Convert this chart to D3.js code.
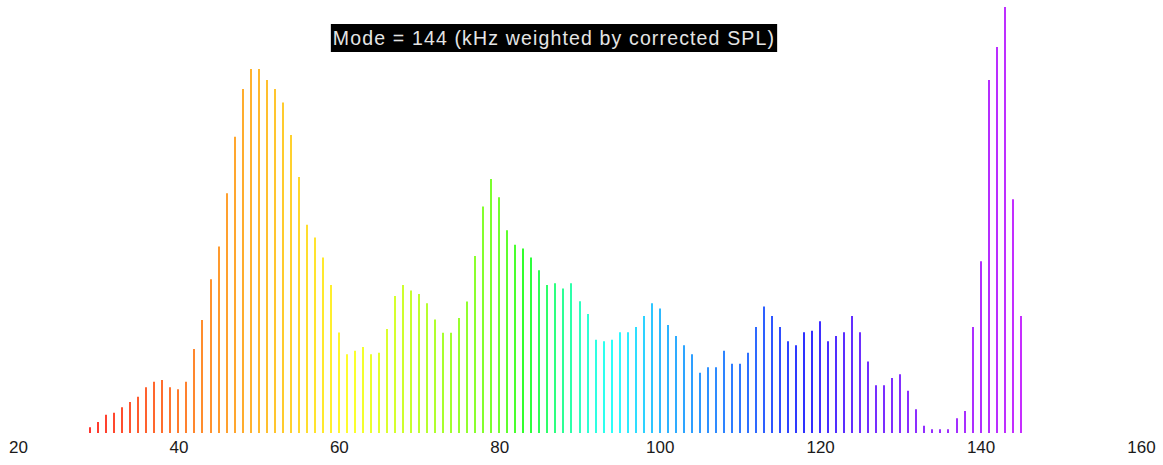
<!DOCTYPE html>
<html>
<head>
<meta charset="utf-8">
<script src="https://cdn.jsdelivr.net/npm/d3@7"></script>
<style>
  body { margin: 0; background: #fff; }
  text { font-family: "Liberation Sans", Arial, sans-serif; }
</style>
</head>
<body>
<div id="chart"></div>
<script>
(function(){

	// frequency bins (kHz) and their weighted corrected SPL
	var kHz = d3.range(29, 146);
	var weights = [
		5.7, 11, 18.3, 20.3, 25.7, 31, 36.3, 45.7, 51.3, 53, 45.7, 43.7, 51.3, 84, 113, 153.7,
		186.3, 239.7, 296, 343.7, 363.7, 363.7, 352.7, 343.7, 330.3, 297.7, 255.7, 208, 195.3, 175.3, 148,
		100.5, 78.7, 82.3, 86, 78.7, 80.3, 104, 137, 148, 142.3, 139, 129.7, 113.3, 100.3, 100.3, 115,
		131.3, 177, 226.3, 253.7, 235.7, 202.7, 188, 184.3, 175.3, 162.7, 148, 149.7, 144.3, 149.7, 131.7,
		119, 93.3, 91.7, 93.3, 100.7, 100.7, 106, 117, 129.7, 124.3, 108, 97, 87.7, 78.7, 60.3,
		65.7, 65.7, 82.3, 69.3, 69.3, 80.3, 106, 126.3, 117, 106, 91.7, 87.7, 100.7, 102.3, 111.7,
		91.7, 97, 100.7, 117, 100.7, 71.5, 47.7, 47.7, 55, 58.7, 42.3, 23.7, 7.3, 3.7, 3.7,
		3.7, 14.7, 22, 106, 171.7, 352.7, 385.7, 425.7, 233.7, 117
	];
	var tickValues = [20, 40, 60, 80, 100, 120, 140, 160];
	var title = "Mode = 144 (kHz weighted by corrected SPL)";

	var width = 1163;
	var height = 465;
	var data = kHz.map(function(k, i){ return {k: k, v: weights[i]}; });

	var svg = d3.select("div#chart")
		.append("svg")
		.attr("width", width)
		.attr("height", height);

	var x = d3.scaleLinear().domain([20, 160]).range([18, 1141]);
	var y = d3.scaleLinear().domain([0, d3.max(weights)]).range([433, 7]);

	// rainbow running red -> purple across the bins
	var hue = d3.scaleLinear()
		.domain([29, 50, 60, 80, 91, 100, 112, 125, 145])
		.range([2, 40, 57, 100, 168, 200, 223, 258, 284])
		.clamp(true);

	svg.selectAll(".bar")
		.data(data)
		.enter().append("line")
		.attr("class", "bar")
		.attr("x1", function(d){ return Math.round(x(d.k)); })
		.attr("x2", function(d){ return Math.round(x(d.k)); })
		.attr("y1", y(0))
		.attr("y2", function(d){ return y(d.v); })
		.attr("stroke", function(d){ return d3.hsl(hue(d.k), 1, 0.59).toString(); })
		.attr("stroke-width", 2);

	var axis = d3.axisBottom(x).tickValues(tickValues).tickSize(0).tickPadding(0);
	var gx = svg.append("g")
		.attr("transform", "translate(0,437)")
		.call(axis);
	gx.select(".domain").remove();
	gx.selectAll("text")
		.attr("dy", "0.95em")
		.attr("fill", "#1a1a1a")
		.style("font-size", "17px")
		.style("font-family", "'Liberation Sans', Arial, sans-serif");

	// title label with black box
	var tg = svg.append("g");
	var rect = tg.append("rect").attr("fill", "#000");
	var t = tg.append("text")
		.attr("x", 554)
		.attr("y", 45)
		.attr("text-anchor", "middle")
		.attr("fill", "#e4e4e4")
		.style("font-size", "19.5px")
		.style("letter-spacing", "1.15px")
		.text(title);
	var bb = t.node().getBBox();
	rect.attr("x", bb.x - 2).attr("y", 24)
		.attr("width", bb.width + 4).attr("height", 28);

})();
</script>
</body>
</html>
